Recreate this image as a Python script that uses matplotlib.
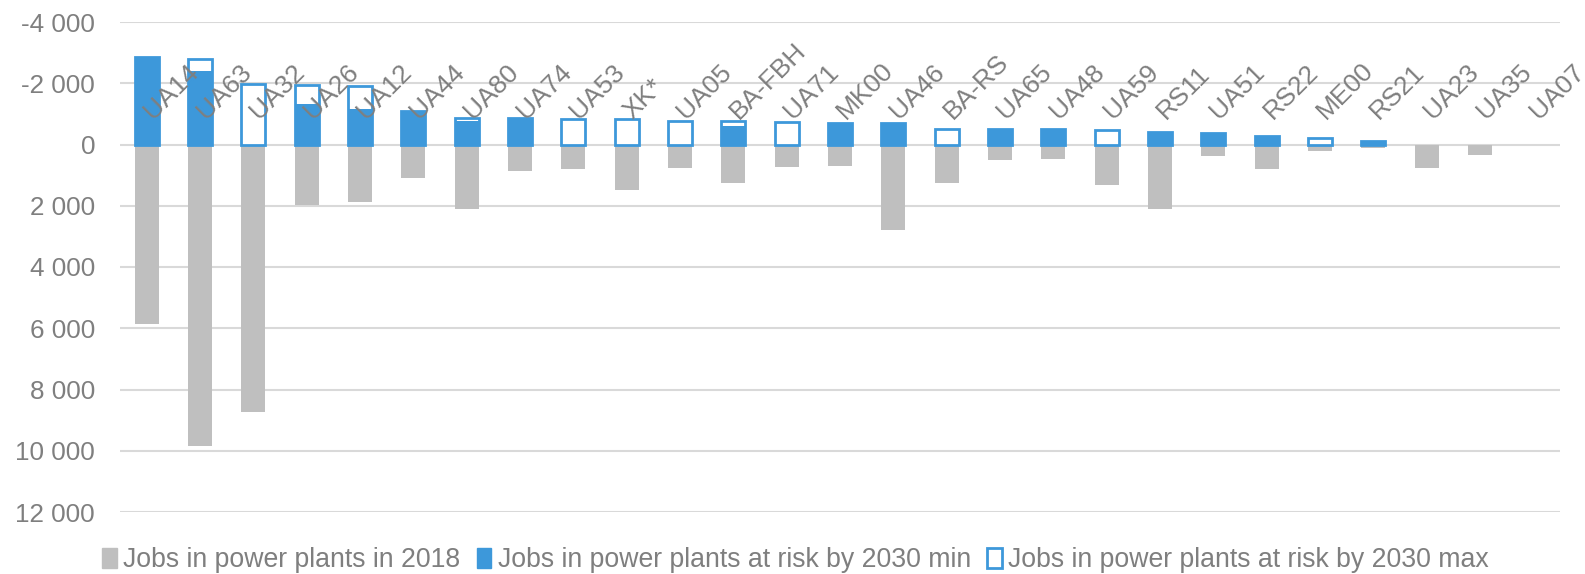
import matplotlib
matplotlib.use("Agg")
import matplotlib.pyplot as plt
from matplotlib.patches import Patch
from matplotlib.ticker import FuncFormatter
import numpy as np

plt.rcParams['font.family'] = ['Liberation Sans', 'DejaVu Sans']

regions = ["UA14", "UA63", "UA32", "UA26", "UA12", "UA44", "UA80", "UA74", "UA53",
           "XK*", "UA05", "BA-FBH", "UA71", "MK00", "UA46", "BA-RS", "UA65", "UA48",
           "UA59", "RS11", "UA51", "RS22", "ME00", "RS21", "UA23", "UA35", "UA07"]

# jobs in 2018 (drawn downwards)
jobs_2018 = [5860, 9860, 8720, 1960, 1890, 1110, 2120, 870, 810,
             1500, 770, 1250, 740, 710, 2790, 1250, 500, 480,
             1320, 2100, 360, 800, 220, 110, 770, 350, 0]
# jobs at risk by 2030 (drawn upwards as negatives)
risk_min = [-2870, -2390, 0, -1310, -1170, -1100, -760, -880, 0,
            0, 0, -600, 0, -710, -710, 0, -500, -500,
            0, -420, -380, -290, 0, -100, 0, 0, 0]
risk_max = [-2870, -2780, -1980, -1950, -1900, -1100, -880, -880, -820,
            -820, -780, -760, -750, -710, -710, -490, -500, -500,
            -470, -420, -380, -290, -200, -100, 0, 0, 0]

grey = '#bfbfbf'
blue = '#3d98da'
txt = '#7f7f7f'

fig = plt.figure(figsize=(15.85, 5.74), dpi=100)
ax = fig.add_axes([120/1585, 1-512/574, 1440/1585, 490/574])

x = np.arange(len(regions))
w = 0.45
vmax = np.array(risk_max, dtype=float)
vmin = np.array(risk_min, dtype=float)
ax.bar(x, jobs_2018, w, color=grey, zorder=2)
ax.bar(x[vmax != 0], vmax[vmax != 0], w, color='white', edgecolor=blue, linewidth=2, zorder=3)
ax.bar(x[vmin != 0], vmin[vmin != 0], w, color=blue, zorder=4)

ax.set_xlim(-0.5, len(regions) - 0.5)
ax.set_ylim(12000, -4000)
ax.set_yticks(np.arange(-4000, 12001, 2000))
ax.yaxis.set_major_formatter(FuncFormatter(lambda v, p: f"{int(v):,}".replace(",", " ")))
ax.tick_params(axis='y', length=0, pad=18, labelsize=18.7, labelcolor=txt)
ax.set_xticks([])
ax.grid(axis='y', color='#d9d9d9', linewidth=1.5, zorder=0)
ax.set_axisbelow(True)
for s in ax.spines.values():
    s.set_visible(False)

for i, r in enumerate(regions):
    ax.text(i + 0.11, -800, r, rotation=45, rotation_mode='anchor', ha='left', va='baseline',
            fontsize=19, color=txt, zorder=5, clip_on=False)

handles = [Patch(facecolor=grey, edgecolor=grey),
           Patch(facecolor=blue, edgecolor=blue),
           Patch(facecolor='white', edgecolor=blue, linewidth=2)]
labels = ["Jobs in power plants in 2018",
          "Jobs in power plants at risk by 2030 min",
          "Jobs in power plants at risk by 2030 max"]
fig.legend(handles, labels, loc='center', bbox_to_anchor=(0.502, 0.024), ncol=3,
           frameon=False, fontsize=19.2, labelcolor=txt, handlelength=0.55,
           handleheight=0.75, handletextpad=0.25, columnspacing=0.6)

fig.savefig("out.png", dpi=100)
